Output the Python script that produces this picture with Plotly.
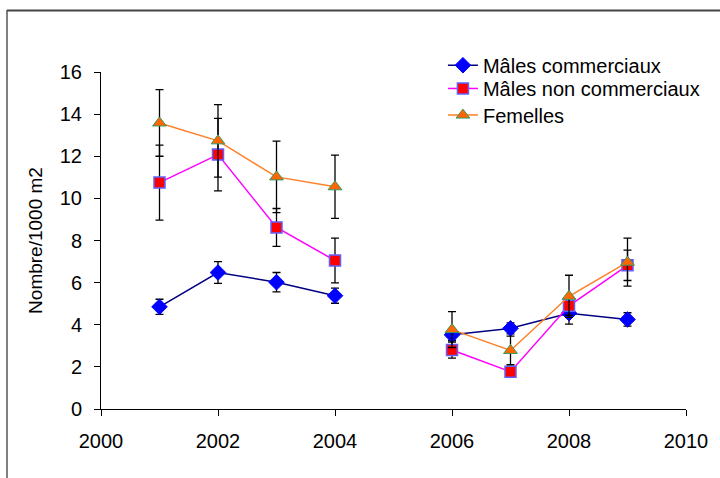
import plotly.graph_objects as go

years = [2001, 2002, 2003, 2004, 2005, 2006, 2007, 2008, 2009]

males_com = [4.85, 6.48, 6.02, 5.38, None, 3.52, 3.83, 4.55, 4.25]
males_com_err = [0.36, 0.52, 0.46, 0.36, None, 0.26, 0.26, 0.52, 0.32]

males_noncom = [10.75, 12.08, 8.62, 7.05, None, 2.8, 1.77, 4.9, 6.82]
males_noncom_err = [1.78, 1.72, 0.9, 1.06, None, 0.38, 0.24, 0.45, 0.72]

femelles = [13.58, 12.73, 11.02, 10.55, None, 3.77, 2.78, 5.35, 6.97]
femelles_err = [1.58, 1.72, 1.7, 1.5, None, 0.85, 0.68, 1.0, 1.14]

names = ["Mâles commerciaux", "Mâles non commerciaux", "Femelles"]

fig = go.Figure()

def err(vals):
    return dict(type="data", array=vals, visible=True, color="black",
                thickness=1.3, width=4)

fig.add_trace(go.Scatter(
    x=years, y=males_com, name=names[0], mode="lines+markers",
    line=dict(color="#000080", width=1.5),
    marker=dict(symbol="diamond", size=12, color="#0000FF",
                line=dict(color="#0000FF", width=1)),
    error_y=err(males_com_err), connectgaps=False, legend="legend"))

fig.add_trace(go.Scatter(
    x=years, y=males_noncom, name=names[1], mode="lines+markers",
    line=dict(color="#FF00FF", width=1.5),
    marker=dict(symbol="square", size=11, color="#FF0000",
                line=dict(color="#6060FF", width=1.5)),
    error_y=err(males_noncom_err), connectgaps=False, legend="legend2"))

fig.add_trace(go.Scatter(
    x=years, y=femelles, name=names[2], mode="lines+markers",
    line=dict(color="#FF7F27", width=1.5),
    marker=dict(symbol="triangle-up", size=12, color="#FF6600",
                line=dict(color="#339966", width=1)),
    error_y=err(femelles_err), connectgaps=False, legend="legend3"))

font = dict(family="Liberation Sans, Arial, sans-serif", size=20, color="black")
tfont = dict(family="Liberation Sans, Arial, sans-serif", size=19, color="black")

def leg(y):
    return dict(x=0.5845, y=y, xanchor="left", yanchor="top",
                bgcolor="rgba(0,0,0,0)", borderwidth=0,
                font=font, tracegroupgap=0, itemwidth=30)

fig.update_layout(
    width=720, height=478,
    margin=dict(l=101, r=34, t=72, b=69, autoexpand=False),
    paper_bgcolor="white", plot_bgcolor="white",
    font=font,
    showlegend=True,
    legend=leg(1.078),
    legend2=leg(1.009),
    legend3=leg(0.930),
    xaxis=dict(range=[2000, 2010], tickmode="array",
               tickvals=[2000, 2002, 2004, 2006, 2008, 2010],
               ticktext=["2000", "2002", "2004", "2006", "2008", "2010"],
               showgrid=False, zeroline=False,
               showline=True, linecolor="black", linewidth=1,
               ticks="outside", ticklen=6, tickcolor="black", tickwidth=1,
               tickfont=font, ticklabelstandoff=8),
    yaxis=dict(range=[0, 16], tickmode="array",
               tickvals=[0, 2, 4, 6, 8, 10, 12, 14, 16],
               showgrid=False, zeroline=False,
               showline=True, linecolor="black", linewidth=1,
               ticks="outside", ticklen=6, tickcolor="black", tickwidth=1,
               tickfont=font, ticklabelstandoff=8,
               title=dict(text="Nombre/1000 m2", font=tfont, standoff=12)),
    shapes=[
        dict(type="line", xref="paper", yref="paper",
             x0=(7 - 101) / 585, x1=(7 - 101) / 585,
             y0=(409 - 10) / 337, y1=(409 - 480) / 337,
             line=dict(color="black", width=1)),
        dict(type="line", xref="paper", yref="paper",
             x0=(7 - 101) / 585, x1=(730 - 101) / 585,
             y0=(409 - 10.5) / 337, y1=(409 - 10.5) / 337,
             line=dict(color="#444444", width=2)),
    ],
)

fig.write_html("out.html")
